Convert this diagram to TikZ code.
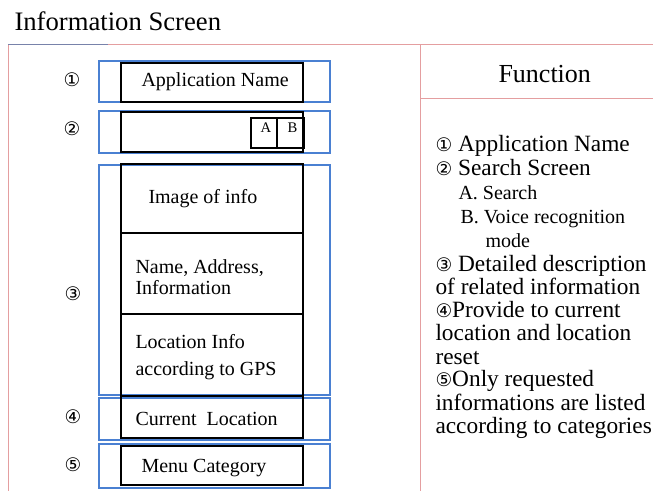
\documentclass[tikz,border=0pt]{standalone}
\usepackage{fontspec}
\setmainfont{Liberation Serif}
\newfontfamily\circfont{DejaVu Sans}
\newcommand\cn[1]{{\circfont\fontsize{14}{14}\selectfont #1}}
\definecolor{framered}{RGB}{228,158,160}
\definecolor{frameslate}{RGB}{120,130,170}
\definecolor{markblue}{RGB}{74,128,210}
\tikzset{every picture/.style={line width=0.75pt}}
\tikzset{
  markbox/.style={draw=markblue, line width=1.6pt},
  screenbox/.style={draw=black, line width=1.9pt},
  boxtext/.style={anchor=base west, inner sep=0pt, font=\fontsize{15}{18}\selectfont},
  functext/.style={anchor=base west, inner sep=0pt, font=\fontsize{17.5}{21}\selectfont},
  subtext/.style={anchor=base west, inner sep=0pt, font=\fontsize{15}{18}\selectfont},
  numtext/.style={inner sep=0pt, font=\circfont\fontsize{14}{14}\selectfont},
}

\begin{document}
\begin{tikzpicture}[x=0.75pt,y=0.75pt,yscale=-1,xscale=1]
		\useasboundingbox (0,0) rectangle (653,491);
		\clip (0,0) rectangle (653,491);
		
		%Frame lines
		\draw [color=framered] (108,45) -- (653,45) ;
		\draw [color=frameslate] (8,45) -- (108,45) ;
		\draw [color=framered] (8,45) -- (8,491) ;
		\draw [color=framered] (420,45) -- (420,491) ;
		\draw [color=framered] (420,99) -- (653,99) ;
		
		%Shape: Rectangle (marked regions)
		\draw [markbox] (99,61) rectangle (330,102) ;
		\draw [markbox] (99,111) rectangle (330,153) ;
		\draw [markbox] (99,165) rectangle (330,395) ;
		\draw [markbox] (99,398) rectangle (330,440) ;
		\draw [markbox] (99,444) rectangle (330,488) ;
		
		%Shape: Rectangle (screen parts)
		\draw [screenbox] (121,63) rectangle (303,102) ;
		\draw [screenbox] (121,112) rectangle (303,152) ;
		\draw [screenbox] (251,118) rectangle (277,148) ;
		\draw [screenbox] (277,118) rectangle (304,148) ;
		\draw [screenbox] (121,164) rectangle (303,396) ;
		\draw [screenbox] (121,233) -- (303,233) ;
		\draw [screenbox] (121,314) -- (303,314) ;
		\draw [screenbox] (121,396) rectangle (303,438) ;
		\draw [screenbox] (121,446) rectangle (303,485) ;
		
		\draw (14,31) node [anchor=base west][inner sep=0pt, font=\fontsize{20}{24}\selectfont] (title) {Information Screen};
		\draw (498,83) node [anchor=base west][inner sep=0pt, font=\fontsize{19.5}{24}\selectfont] (function) {Function};
		
		\draw (72,80) node [numtext] (n1) {①};
		\draw (72,129) node [numtext] (n2) {②};
		\draw (73,294) node [numtext] (n3) {③};
		\draw (73,417) node [numtext] (n4) {④};
		\draw (73,465) node [numtext] (n5) {⑤};
		
		\draw (141,87) node [boxtext] (appname) {Application Name};
		\draw (260,133) node [anchor=base west][inner sep=0pt, font=\fontsize{11}{13}\selectfont] (keya) {A};
		\draw (287,133) node [anchor=base west][inner sep=0pt, font=\fontsize{11}{13}\selectfont] (keyb) {B};
		\draw (148,204) node [boxtext] (image) {Image of info};
		\draw (135,274) node [boxtext] (name) {Name, Address,};
		\draw (135,295) node [boxtext] (info) {Information};
		\draw (135,349) node [boxtext] (loc) {Location Info};
		\draw (135,376) node [boxtext] (gps) {according to GPS};
		\draw (135,425) node [boxtext] (current) {Current\ \ Location};
		\draw (141,472) node [boxtext] (menu) {Menu Category};
		
		\draw (435,152) node [functext] (f1) {\cn{①} Application Name};
		\draw (435,176) node [functext] (f2) {\cn{②} Search Screen};
		\draw (458,200) node [subtext] (f2a) {A. Search};
		\draw (460,224) node [subtext] (f2b) {B. Voice recognition};
		\draw (485,248) node [subtext] (f2c) {mode};
		\draw (435,272) node [functext] (f3) {\cn{③} Detailed description};
		\draw (435,295) node [functext] (f3b) {of related information};
		\draw (435,318) node [functext] (f4) {\cn{④}Provide to current};
		\draw (435,341) node [functext] (f4b) {location and location};
		\draw (435,364) node [functext] (f4c) {reset};
		\draw (435,387) node [functext] (f5) {\cn{⑤}Only requested};
		\draw (435,410) node [functext] (f5b) {informations are listed};
		\draw (435,433) node [functext] (f5c) {according to categories.};
		
	\end{tikzpicture}
\end{document}
